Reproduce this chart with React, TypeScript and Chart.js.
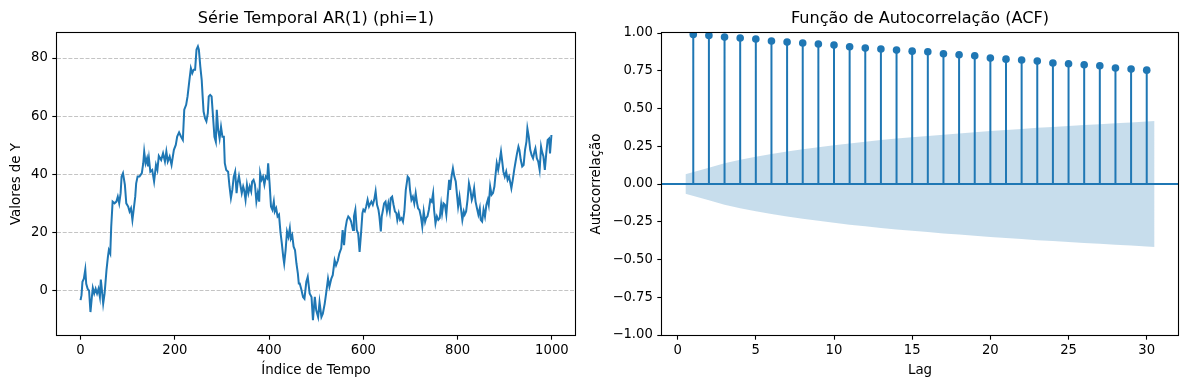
import { useEffect, useRef } from "react";
import { Chart, registerables } from "chart.js";

Chart.register(...registerables);

// ---------- Left panel: time series ----------
const seriesIndex = [
  0, 2, 4, 7, 10, 12, 15, 18, 21, 24, 26, 29, 32, 35, 38, 41, 43, 46, 48, 51, 55, 58, 60, 63, 65, 68, 72, 76, 79, 82, 85, 87, 90, 94, 97, 101, 104, 107, 110, 113, 116, 118, 121, 125, 130, 133, 135, 138, 141, 143, 145, 148, 152, 156, 160, 163, 166, 171, 175, 179, 182, 185, 189, 193, 198, 202, 205, 209, 213, 217,
  220, 224, 227, 231, 234, 237, 240, 243, 246, 249, 251, 254, 257, 259, 261, 264, 267, 270, 272, 275, 278, 281, 284, 287, 289, 292, 295, 298, 301, 304, 306, 309, 313, 316, 319, 322, 325, 328, 331, 333, 336, 339, 342, 345, 347, 350, 353, 356, 359, 362, 364, 367, 370, 373, 376, 379, 381, 384, 387, 390, 393, 396, 398, 401, 404, 407, 410, 412, 415, 418, 421, 424, 427, 430, 432, 435, 438, 441, 444, 446, 449, 452, 455, 458, 461, 463,
  465, 468, 472, 475, 479, 482, 486, 490, 493, 497, 500, 504, 507, 511, 514, 518, 521, 525, 528, 532, 535, 539, 542, 546, 549, 553, 556, 559, 562, 565, 568, 571, 574, 578, 580, 583, 586, 589, 592, 595, 598, 600, 603, 606, 609, 612, 615, 617, 620, 623, 626, 629, 632, 634, 637, 639, 641, 644, 647, 650, 653, 656, 658, 661, 664, 667, 670, 672, 675, 678, 681, 684, 687, 690, 692, 694, 697, 699, 702, 705, 708, 711, 714, 716,
  719, 722, 725, 728, 731, 733, 736, 739, 742, 745, 748, 750, 753, 756, 759, 762, 765, 767, 770, 773, 776, 779, 782, 784, 787, 790, 793, 796, 799, 801, 804, 807, 810, 813, 815, 818, 821, 824, 827, 830, 832, 835, 838, 841, 844, 847, 849, 852, 855, 858, 861, 864, 866, 869, 872, 875, 878, 880, 883, 886, 889, 892, 895, 897, 900, 903, 906, 909, 912, 914, 917, 920, 923, 926, 929, 931, 934, 937, 940, 943, 946, 948, 951, 954, 957, 960, 963, 965, 968, 971, 974, 977, 979, 982, 985, 988, 991, 994, 996, 999,
];
const seriesValues = [
  -3.3, -1.6, 3.0, 4.1, 7.2, 2.3, 0.6, 0, -7.4, -2.2, 0.9, -1.0, 0.6, -1, 0.6, -2.2, 3.8, -1, -4.5, -1, 7, 11.6, 13.9, 12.7, 21.9, 30.6, 30, 30.6, 32.3, 30, 33.5, 39.2, 40.4, 36.4, 30, 28.9, 27.2, 28.3, 24.3, 28.3, 32.3, 36.9, 39.2, 39.2, 40.4, 43.8, 47.8, 43.8, 45.5, 42.7, 45.5, 40.9, 41.5, 37.5, 43.2, 41.5, 46.3, 44.9, 47.2, 44.4, 47.8, 44.4, 46.1, 43.2, 48.4, 50.1, 53, 54.4, 53, 51.8,
  62.2, 63.9, 66.8, 72.5, 76.5, 74.8, 76, 76, 82.9, 84.0, 82.9, 77.1, 72.5, 66.8, 61.6, 59.3, 58.2, 61, 66.8, 67.3, 66.8, 59.9, 52.9, 51.2, 62.2, 55.2, 52.3, 56.3, 52.9, 52.9, 43.8, 41.5, 40.9, 35.8, 31.8, 34.6, 39.2, 40.9, 33.5, 36.9, 39.4, 36.4, 33.5, 35.8, 34.6, 31.2, 36.4, 33.5, 35.8, 34.1, 37.5, 38.1, 36.4, 30.6, 33.5, 30.6, 40.4, 38.1, 39.2, 36.4, 39.2, 38.6, 43.8, 36.9, 28.9, 27.8, 30.6, 27.2, 28.3, 25.5, 26.1, 20.3, 16.2, 11.6, 9.3, 13.9, 20.3, 18.5, 21.4, 17.9, 19.1, 15.1, 13.9, 9.3, 5.9, 2.4,
  2.4, 0.6, -2.2, -2.8, 3.0, 4.7, -1.0, -2.2, -10.2, -2.2, -6.8, -9.1, -4, -9.1, -8, -4.5, -1, 4.1, 1.3, 4.1, 5.3, 10.4, 8.7, 10.4, 12.7, 14.5, 20.8, 15.6, 21.4, 24.2, 25.5, 24.9, 23.7, 20.8, 25.5, 27.8, 20.8, 19.6, 13.3, 19.6, 26.6, 27.8, 27.2, 28.9, 31.2, 28.9, 30, 30.6, 29.5, 31.2, 34.1, 29.5, 27.8, 25.5, 20.3, 25.5, 27.2, 30, 30.6, 27.2, 30, 27.2, 31.8, 32.3, 29.5, 27.2, 26.6, 24.3, 26.6, 24.3, 24.9, 23.7, 27.2, 34.6, 36.9, 39.2, 38.6, 34.6, 31.2, 32.3, 30, 33.5, 30, 28.3,
  27.7, 25.5, 22.0, 27.2, 23.7, 24.9, 25.5, 27.8, 31.2, 30.6, 33.5, 27.8, 23.1, 25.5, 24.3, 24.9, 29.5, 26.6, 30, 29.5, 26.1, 32.3, 38.1, 34.6, 39.2, 42.0, 39.2, 37.5, 32.3, 28.9, 32.3, 28.3, 24.3, 27.2, 26.1, 27.2, 31.2, 36.9, 34.6, 31.2, 32.3, 35.2, 30.6, 28.3, 26.1, 28.3, 24.3, 23.7, 27.8, 25.5, 29.5, 31.2, 29.5, 35.8, 32.9, 33.5, 35.8, 39.2, 43.8, 41.5, 44.4, 47.8, 43.8, 40.9, 39.2, 40.9, 38.1, 39.2, 36.9, 35.2, 38.1, 41.5, 44.4, 47.2, 49.5, 48.4, 44.9, 42.7, 43.2, 48.4, 51.2, 55.8, 52.9, 48.4, 46.6, 45.5, 47.8, 48.9, 45.5, 44.4, 41.5, 49.5, 47.8, 46.1, 41.5, 47.2, 51.8, 52.3, 47.2, 53.5,
];
const leftXTicks = [0, 200, 400, 600, 800, 1000];
const leftYTicks = [0, 20, 40, 60, 80];

// ---------- Right panel: ACF ----------
const acfLags = [1, 2, 3, 4, 5, 6, 7, 8, 9, 10, 11, 12, 13, 14, 15, 16, 17, 18, 19, 20, 21, 22, 23, 24, 25, 26, 27, 28, 29, 30];
const acfValues = [
  0.991, 0.984, 0.973, 0.967, 0.96, 0.947, 0.94, 0.934, 0.927, 0.92, 0.909, 0.9, 0.894, 0.887, 0.88,
  0.876, 0.863, 0.856, 0.849, 0.834, 0.827, 0.821, 0.814, 0.801, 0.796, 0.79, 0.783, 0.768, 0.761, 0.754,
];
const bandLags = [0.5, 2, 3, 4, 5, 6, 7, 8, 9, 10, 11, 12, 13, 14, 15, 16, 17, 18, 19, 20, 21, 22, 23, 24, 25, 26, 27, 28, 29, 30.5];
const bandUpper = [
  0.064, 0.107, 0.137, 0.16, 0.18, 0.198, 0.215, 0.23, 0.244, 0.257, 0.269, 0.28, 0.291, 0.301, 0.309,
  0.318, 0.327, 0.335, 0.343, 0.351, 0.358, 0.365, 0.372, 0.378, 0.384, 0.39, 0.396, 0.402, 0.408, 0.417,
];
const bandLower = [
  -0.064, -0.107, -0.137, -0.16, -0.18, -0.198, -0.215, -0.23, -0.244, -0.257, -0.269, -0.28, -0.291, -0.301, -0.309,
  -0.318, -0.327, -0.335, -0.343, -0.351, -0.358, -0.365, -0.372, -0.378, -0.384, -0.39, -0.396, -0.402, -0.408, -0.417,
];
const rightXTicks = [0, 5, 10, 15, 20, 25, 30];
const rightYTicks = [-1, -0.75, -0.5, -0.25, 0, 0.25, 0.5, 0.75, 1];
const rightYLabels = ["\u22121.00", "\u22120.75", "\u22120.50", "\u22120.25", "0.00", "0.25", "0.50", "0.75", "1.00"];

const BLUE = "#1f77b4";
const FONT = "DejaVu Sans";
const tickFont = { family: FONT, size: 13.2 };
const labelFont = { family: FONT, size: 13.4 };
const titleFont = { family: FONT, size: 16.1, weight: "normal" as const };

const framePlugin = {
  id: "frame",
  afterDatasetsDraw(chart: any) {
    const { ctx, chartArea } = chart;
    ctx.save();
    ctx.strokeStyle = "#000";
    ctx.lineWidth = 1.1;
    ctx.strokeRect(
      Math.round(chartArea.left) - 0.5,
      Math.round(chartArea.top) - 0.5,
      Math.round(chartArea.right - chartArea.left) + 1,
      Math.round(chartArea.bottom - chartArea.top) + 1
    );
    ctx.restore();
  },
};

function tickGrid(onArea: boolean) {
  return {
    display: true,
    drawOnChartArea: onArea,
    drawTicks: true,
    tickLength: 4.7,
    tickColor: "#000",
    tickWidth: 1.1,
    color: "rgba(176,176,176,0.75)",
    lineWidth: 1,
  };
}

export default function App() {
  const leftRef = useRef<HTMLCanvasElement | null>(null);
  const rightRef = useRef<HTMLCanvasElement | null>(null);

  useEffect(() => {
    Chart.defaults.color = "#000";
    Chart.defaults.font.family = FONT;

    const left = new Chart(leftRef.current!, {
      type: "line",
      data: {
        datasets: [
          {
            data: seriesIndex.map((x, i) => ({ x, y: seriesValues[i] })),
            borderColor: BLUE,
            borderWidth: 2,
            pointRadius: 0,
            tension: 0,
            fill: false,
          },
        ],
      },
      options: {
        animation: false,
        responsive: false,
        layout: { padding: { left: 0, right: 5, top: 0, bottom: 0 } },
        plugins: {
          legend: { display: false },
          tooltip: { enabled: false },
          title: {
            display: true,
            text: "Série Temporal AR(1) (phi=1)",
            font: titleFont,
            color: "#000",
            padding: { top: 9, bottom: 4.7 },
            fullSize: false,
          } as any,
        },
        scales: {
          x: {
            type: "linear",
            min: -50,
            max: 1049,
            afterBuildTicks: (s: any) => {
              s.ticks = leftXTicks.map((v) => ({ value: v }));
            },
            afterFit: (s: any) => {
              s.height = 55;
            },
            ticks: { font: tickFont, padding: 3, maxRotation: 0, autoSkip: false, color: "#000", callback: (v: any) => String(v) },
            grid: tickGrid(false),
            border: { display: false },
            title: { display: true, text: "Índice de Tempo", font: labelFont, color: "#000", padding: { top: 0, bottom: 11 } },
          },
          y: {
            type: "linear",
            min: -15.3,
            max: 88.6,
            afterBuildTicks: (s: any) => {
              s.ticks = leftYTicks.map((v) => ({ value: v }));
            },
            afterFit: (s: any) => {
              s.width = 57;
            },
            ticks: { font: tickFont, padding: 4.5, color: "#000", callback: (v: any) => String(v) },
            grid: tickGrid(true),
            border: { display: false, dash: [4, 1.7] },
            title: { display: true, text: "Valores de Y", font: labelFont, color: "#000", padding: { top: 8, bottom: 0 } },
          },
        },
      },
      plugins: [framePlugin],
    });

    const stemData: any[] = [];
    acfLags.forEach((l, i) => {
      stemData.push({ x: l, y: 0 }, { x: l, y: acfValues[i] }, { x: l, y: null });
    });

    const right = new Chart(rightRef.current!, {
      type: "line",
      data: {
        datasets: [
          {
            data: acfLags.map((x, i) => ({ x, y: acfValues[i] })),
            showLine: false,
            pointRadius: 3.8,
            pointBackgroundColor: BLUE,
            pointBorderColor: BLUE,
            pointBorderWidth: 0,
            order: 0,
          },
          {
            data: stemData,
            borderColor: BLUE,
            borderWidth: 2,
            pointRadius: 0,
            spanGaps: false,
            order: 1,
          },
          {
            data: [
              { x: -1, y: 0 },
              { x: 32, y: 0 },
            ],
            borderColor: BLUE,
            borderWidth: 2,
            pointRadius: 0,
            order: 2,
          },
          {
            data: bandLags.map((x, i) => ({ x, y: bandUpper[i] })),
            borderWidth: 0,
            borderColor: "rgba(0,0,0,0)",
            backgroundColor: "rgba(31,119,180,0.25)",
            pointRadius: 0,
            fill: "+1",
            order: 3,
          },
          {
            data: bandLags.map((x, i) => ({ x, y: bandLower[i] })),
            borderWidth: 0,
            borderColor: "rgba(0,0,0,0)",
            backgroundColor: "rgba(31,119,180,0.25)",
            pointRadius: 0,
            fill: false,
            order: 4,
          },
        ],
      },
      options: {
        animation: false,
        responsive: false,
        layout: { padding: { left: 0, right: 11, top: 0, bottom: 0 } },
        plugins: {
          legend: { display: false },
          tooltip: { enabled: false },
          title: {
            display: true,
            text: "Função de Autocorrelação (ACF)",
            font: titleFont,
            color: "#000",
            padding: { top: 9, bottom: 4.7 },
            fullSize: false,
          } as any,
        },
        scales: {
          x: {
            type: "linear",
            min: -1,
            max: 32,
            afterBuildTicks: (s: any) => {
              s.ticks = rightXTicks.map((v) => ({ value: v }));
            },
            afterFit: (s: any) => {
              s.height = 55;
            },
            ticks: { font: tickFont, padding: 3, maxRotation: 0, autoSkip: false, color: "#000", callback: (v: any) => String(v) },
            grid: tickGrid(false),
            border: { display: false },
            title: { display: true, text: "Lag", font: labelFont, color: "#000", padding: { top: 0, bottom: 11 } },
          },
          y: {
            type: "linear",
            min: -1,
            max: 1,
            afterBuildTicks: (s: any) => {
              s.ticks = rightYTicks.map((v) => ({ value: v }));
            },
            afterFit: (s: any) => {
              s.width = 82;
            },
            ticks: {
              font: tickFont,
              padding: 4.5,
              color: "#000",
              callback: (v: any) => {
                const k = rightYTicks.findIndex((t) => Math.abs(t - v) < 1e-9);
                return k >= 0 ? rightYLabels[k] : "";
              },
            },
            grid: tickGrid(false),
            border: { display: false },
            title: { display: true, text: "Autocorrelação", font: labelFont, color: "#000", padding: { top: 8.5, bottom: 0 } },
          },
        },
      },
      plugins: [framePlugin],
    });

    return () => {
      left.destroy();
      right.destroy();
    };
  }, []);

  return (
    <div style={{ position: "fixed", left: 0, top: 0, width: 1189, height: 390, background: "#fff" }}>
      <canvas
        ref={leftRef}
        width={580}
        height={390}
        style={{ position: "absolute", left: 0, top: 0, width: 580, height: 390 }}
      />
      <canvas
        ref={rightRef}
        width={609}
        height={390}
        style={{ position: "absolute", left: 580, top: 0, width: 609, height: 390 }}
      />
    </div>
  );
}
